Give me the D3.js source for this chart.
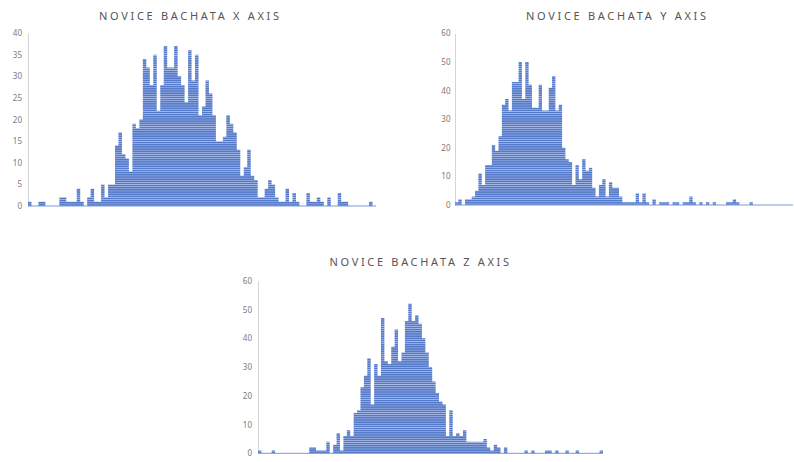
<!DOCTYPE html>
<html>
<head>
<meta charset="utf-8">
<script src="https://cdn.jsdelivr.net/npm/d3@7"></script>
<style>
  html, body { margin: 0; padding: 0; background: #ffffff; }
  svg { display: block; }
</style>
</head>
<body>
<svg id="chart" width="794" height="462"></svg>
<script>
// Histogram counts per bin for each accelerometer axis
const xAxisCounts = [
  1, 0, 0, 1, 1, 0, 0, 0, 0, 2,
  2, 1, 1, 1, 4, 1, 0, 2, 4, 1,
  1, 5, 2, 5, 5, 14, 17, 12, 11, 8,
  19, 18, 20, 34, 32, 28, 35, 22, 28, 37,
  32, 32, 37, 30, 28, 24, 36, 29, 35, 21,
  23, 29, 26, 21, 15, 15, 16, 21, 19, 17,
  13, 7, 9, 13, 7, 6, 2, 2, 4, 6,
  5, 2, 1, 1, 4, 1, 3, 1, 0, 0,
  3, 1, 1, 2, 1, 0, 2, 0, 0, 3,
  1, 1, 0, 0, 0, 0, 0, 0, 1, 0
];

const yAxisCounts = [
  1, 2, 0, 2, 2, 3, 5, 11, 7, 14,
  14, 21, 19, 24, 35, 37, 33, 43, 43, 50,
  37, 50, 42, 34, 34, 42, 33, 33, 41, 45,
  33, 35, 20, 16, 15, 7, 14, 9, 16, 12,
  13, 6, 3, 7, 9, 3, 8, 6, 6, 3,
  1, 1, 1, 1, 4, 1, 4, 1, 0, 2,
  0, 1, 1, 1, 0, 1, 1, 0, 1, 1,
  3, 1, 0, 1, 0, 1, 0, 1, 0, 0,
  0, 1, 1, 2, 1, 0, 0, 0, 1, 0,
  0, 0, 0, 0, 0, 0, 0, 0, 0, 0,
  0
];

const zAxisCounts = [
  1, 0, 0, 0, 1, 0, 0, 0, 0, 0,
  0, 0, 0, 0, 0, 2, 2, 1, 1, 1,
  4, 0, 3, 7, 1, 6, 8, 6, 14, 15,
  23, 27, 33, 17, 31, 27, 47, 32, 31, 37,
  43, 32, 35, 46, 52, 46, 48, 45, 40, 35,
  30, 25, 21, 18, 17, 6, 15, 6, 7, 6,
  8, 4, 4, 4, 4, 4, 5, 2, 1, 3,
  2, 0, 2, 0, 0, 0, 0, 0, 1, 0,
  1, 0, 0, 0, 1, 1, 0, 1, 0, 0,
  1, 0, 0, 1, 0, 0, 0, 0, 0, 0,
  1
];

const xTicks = [0, 5, 10, 15, 20, 25, 30, 35, 40];
const yTicks = [0, 10, 20, 30, 40, 50, 60];
const zTicks = [0, 10, 20, 30, 40, 50, 60];

const titles = ["NOVICE BACHATA X AXIS", "NOVICE BACHATA Y AXIS", "NOVICE BACHATA Z AXIS"];

const svg = d3.select("#chart");

// Horizontally striped fill shared by all bars
const defs = svg.append("defs");
const pat = defs.append("pattern")
  .attr("id", "stripes")
  .attr("patternUnits", "userSpaceOnUse")
  .attr("width", 8)
  .attr("height", 2.15);
pat.append("rect").attr("width", 8).attr("height", 2.15).attr("fill", "#5479c9");
pat.append("rect").attr("y", 1.45).attr("width", 8).attr("height", 0.7).attr("fill", "#aabde8");

const panels = [
  { counts: xAxisCounts, ticks: xTicks, max: 40, title: titles[0],
    x0: 28, x1: 376, yTop: 33, yBase: 206, titleX: 99, titleW: 180, titleY: 19.5, labelGap: 6 },
  { counts: yAxisCounts, ticks: yTicks, max: 60, title: titles[1],
    x0: 455, x1: 793, yTop: 33.3, yBase: 205, titleX: 526, titleW: 180, titleY: 19.5, labelGap: 4.5 },
  { counts: zAxisCounts, ticks: zTicks, max: 60, title: titles[2],
    x0: 258, x1: 603, yTop: 280.7, yBase: 453.3, titleX: 329.5, titleW: 179.5, titleY: 266, labelGap: 6 }
];

panels.forEach(p => {
  const g = svg.append("g");

  const x = d3.scaleBand()
    .domain(d3.range(p.counts.length))
    .range([p.x0, p.x1])
    .padding(0);

  const y = d3.scaleLinear()
    .domain([0, p.max])
    .range([p.yBase, p.yTop]);

  // Title
  g.append("text")
    .attr("x", p.titleX)
    .attr("y", p.titleY)
    .attr("textLength", p.titleW)
    .attr("lengthAdjust", "spacing")
    .attr("font-family", "'Noto Sans', 'Open Sans', sans-serif")
    .attr("font-size", 11)
    .attr("fill", "#555555")
    .text(p.title);

  // Value axis
  const yAxis = d3.axisLeft(y)
    .tickValues(p.ticks)
    .tickSize(0)
    .tickSizeOuter(0)
    .tickPadding(p.labelGap);

  const ag = g.append("g")
    .attr("transform", `translate(${p.x0},0)`)
    .call(yAxis);
  ag.select(".domain").attr("stroke", "#d4d4d4").attr("stroke-width", 1);
  ag.selectAll(".tick text")
    .attr("font-family", "'Noto Sans', 'Open Sans', sans-serif")
    .attr("font-size", 8)
    .attr("fill", "#7a7a7a");

  // Bars: adjacent columns traced as one outline so they join without seams
  const path = d3.path();
  path.moveTo(x(0), y(0));
  p.counts.forEach((d, i) => {
    path.lineTo(x(i), y(d));
    path.lineTo(x(i) + x.bandwidth(), y(d));
  });
  path.lineTo(p.x1, y(0));
  path.closePath();

  g.append("path")
    .attr("d", path.toString())
    .attr("fill", "url(#stripes)");

  // Baseline
  g.append("line")
    .attr("x1", p.x0)
    .attr("x2", p.x1)
    .attr("y1", y(0))
    .attr("y2", y(0))
    .attr("stroke", "#7d98d6")
    .attr("stroke-width", 1);
});
</script>
</body>
</html>
